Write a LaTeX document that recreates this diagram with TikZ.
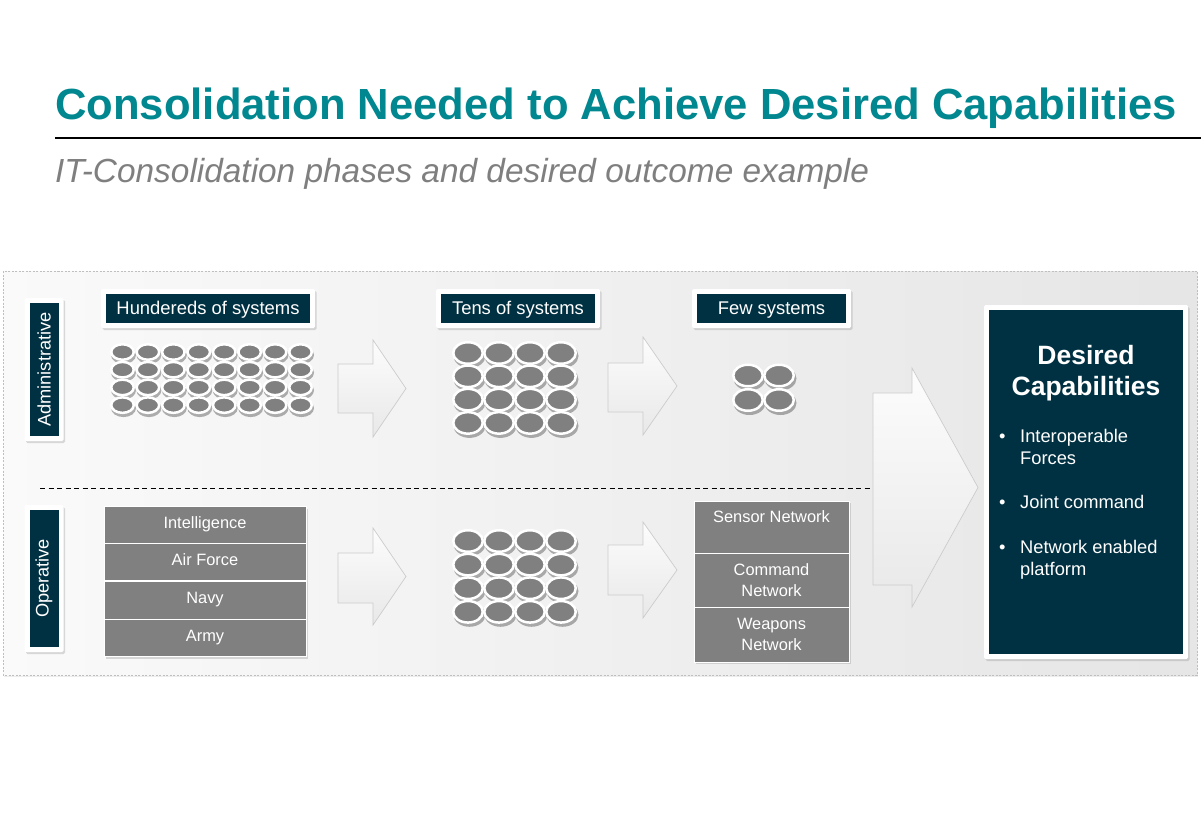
\documentclass[tikz,border=0pt]{standalone}
\usepackage{fontspec}
\setmainfont{Liberation Sans}
\usetikzlibrary{shapes.geometric,shadows}

\definecolor{headteal}{HTML}{00878F}
\definecolor{deepnavy}{HTML}{003142}
\definecolor{subgray}{HTML}{7F7F7F}
\definecolor{tilegray}{HTML}{808080}

% block arrow: x0, shaft top, shaft bottom, head x, head top, tip x, head bottom
\newcommand\blockarrow[7]{%
  \draw[flowarrow] (#1,#2) -- (#4,#2) -- (#4,#5) -- (#6,{(#5+#7)/2}) -- (#4,#7) -- (#4,#3) -- (#1,#3) -- cycle;}

\tikzset{
  softshadow/.style={drop shadow={opacity=0.28, shadow xshift=1.5pt, shadow yshift=-2pt}},
  frame/.style={rectangle, fill=white, rounded corners=1.5pt, softshadow, inner sep=0pt,
    text=white,
    path picture={\fill[deepnavy, sharp corners]
      ([shift={(5pt,5pt)}]path picture bounding box.south west) rectangle
      ([shift={(-5pt,-5pt)}]path picture bounding box.north east);}},
  panel/.style={draw=black!25, dash pattern=on 2pt off 1.5pt, line width=0.6pt,
    left color=black!2, right color=black!10,
    drop shadow={opacity=.15, shadow xshift=1pt, shadow yshift=-1.5pt}},
  flowarrow/.style={draw=black!20, line width=0.7pt, top color=black!1, bottom color=black!9},
  sysdot/.style={ellipse, fill=tilegray, draw=white, line width=2.5pt, inner sep=0pt},
  tile/.style={rectangle, fill=tilegray, draw=white, line width=0.9pt, text=white,
    font=\fontsize{16.4}{20.5}\selectfont, inner sep=0pt, align=center},
  oneline/.style={text height=11pt, text depth=5pt},
  headfont/.style={font=\fontsize{18.4}{22}\selectfont, text height=13pt, text depth=2pt},
  capline/.style={anchor=base west, inner sep=0pt, text=white, font=\fontsize{18.3}{22}\selectfont},
}

\begin{document}
\begin{tikzpicture}[x=1pt,y=-1pt]
\useasboundingbox (0,0) rectangle (1201,826);
\fill[white] (0,0) rectangle (1201,826);

% heading
\node[anchor=base west, inner sep=0pt, text=headteal, font=\bfseries\fontsize{43.6}{50}\selectfont]
  (title) at (55,120) {Consolidation Needed to Achieve Desired Capabilities};
\draw[line width=2pt] (55,138) -- (1201,138);
\node[anchor=base west, inner sep=0pt, text=subgray, font=\itshape\fontsize{33.4}{38}\selectfont]
  (subtitle) at (55,183) {IT-Consolidation phases and desired outcome example};

% background panel
\path[panel] (3,271) rectangle (1197,675);

% divider between the two domains
\draw[dash pattern=on 5pt off 3.5pt, line width=0.8pt] (40,488) -- (873,488);

% consolidation arrows
\blockarrow{338}{364}{413}{373}{340}{406}{437}
\blockarrow{608}{363}{412}{643}{337}{677}{435}
\blockarrow{338}{553}{603}{373}{528}{406}{625}
\blockarrow{608}{545}{595}{643}{522}{677}{618}
\blockarrow{873}{393}{585}{912}{368}{978}{607}

% domain labels
\node[frame, minimum width=39pt, minimum height=143pt, font=\fontsize{18.2}{22}\selectfont]
  (adm) at (44,369.5) {\rotatebox{90}{Administrative}};
\node[frame, minimum width=39pt, minimum height=147pt, font=\fontsize{18.2}{22}\selectfont]
  (ope) at (44,578.5) {\rotatebox{90}{Operative}};

% phase headers
\node[frame, headfont, minimum width=214pt, minimum height=39pt] (hundreds) at (208,308.5) {Hundereds of systems};
\node[frame, headfont, minimum width=164pt, minimum height=39pt] (tens) at (518,308.5) {Tens of systems};
\node[frame, headfont, minimum width=159pt, minimum height=39pt] (few) at (771.5,308.5) {Few systems};

% system shadows
\begin{scope}[transparency group, opacity=.3]
  \foreach \c in {0,...,7} \foreach \r in {0,...,3}
    \fill[black] (123.5+25.43*\c, 355+17.7*\r) ellipse (12.5pt and 9pt);
  \foreach \c in {0,...,3} \foreach \r in {0,...,3} {
    \fill[black] (469.5+31*\c, 356+23.3*\r) ellipse (16pt and 12pt);
    \fill[black] (469.5+31*\c, 544+23.6*\r) ellipse (16pt and 12pt);
  }
  \foreach \c in {0,1} \foreach \r in {0,1}
    \fill[black] (749.5+31*\c, 378.5+24.5*\r) ellipse (16pt and 12pt);
\end{scope}

% systems
\foreach \r in {0,...,3} \foreach \c in {0,...,7}
  \node[sysdot, minimum width=22.5pt, minimum height=15.5pt] (h-\c-\r) at (122.5+25.43*\c, 352+17.7*\r) {};
\foreach \r in {0,...,3} \foreach \c in {0,...,3} {
  \node[sysdot, minimum width=29.5pt, minimum height=21.5pt] (t-\c-\r) at (468+31*\c, 353+23.3*\r) {};
  \node[sysdot, minimum width=29.5pt, minimum height=21.5pt] (o-\c-\r) at (468+31*\c, 541+23.6*\r) {};
}
\foreach \r in {0,1} \foreach \c in {0,1}
  \node[sysdot, minimum width=29.5pt, minimum height=21.5pt] (f-\c-\r) at (748+31*\c, 375.5+24.5*\r) {};

% operative services
\path[fill=tilegray, softshadow] (104,507) rectangle (306,657);
\node[tile, oneline, minimum width=202pt, minimum height=36.5pt] (intel) at (205,525)   {Intelligence};
\node[tile, oneline, minimum width=202pt, minimum height=37.5pt] (air)   at (205,562)   {Air Force};
\node[tile, oneline, minimum width=202pt, minimum height=38pt]   (navy)  at (205,600)   {Navy};
\node[tile, oneline, minimum width=202pt, minimum height=37.5pt] (army)  at (205,638)   {Army};

% consolidated networks
\path[fill=tilegray, softshadow] (694,501) rectangle (849,662);
\node[tile, minimum width=155pt, minimum height=52pt] (sensor)  at (771.5,527)   {Sensor Network\\~};
\node[tile, minimum width=155pt, minimum height=54pt] (command) at (771.5,580)   {Command\\Network};
\node[tile, minimum width=155pt, minimum height=55pt] (weapons) at (771.5,634.5) {Weapons\\Network};

% target state
\node[frame, minimum width=204pt, minimum height=354pt] (desired) at (1086,482) {};
\node[anchor=base, inner sep=0pt, text=white, font=\bfseries\fontsize{26.5}{31}\selectfont] (des-a) at (1086,364) {Desired};
\node[anchor=base, inner sep=0pt, text=white, font=\bfseries\fontsize{26.5}{31}\selectfont] (des-b) at (1086,395) {Capabilities};
\node[capline] (cap1a) at (999,442) {\makebox[21pt][l]{•}Interoperable};
\node[capline] (cap1b) at (1020,464) {Forces};
\node[capline] (cap2)  at (999,508) {\makebox[21pt][l]{•}Joint command};
\node[capline] (cap3a) at (999,553) {\makebox[21pt][l]{•}Network enabled};
\node[capline] (cap3b) at (1020,575) {platform};
\end{tikzpicture}
\end{document}
